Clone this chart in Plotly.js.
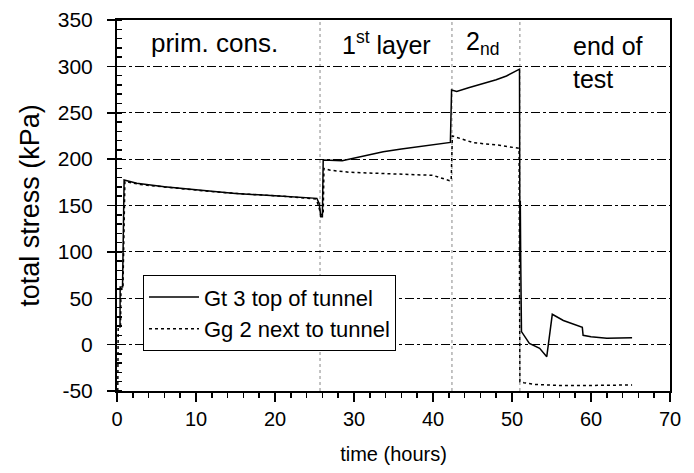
<!DOCTYPE html>
<html>
<head>
<meta charset="utf-8">
<script src="https://cdn.plot.ly/plotly-3.0.1.min.js"></script>
<style>html,body{margin:0;padding:0;background:#fff;}#chart{width:694px;height:473px;}</style>
</head>
<body>
<div id="chart"></div>
<script>
// Gt 3 top of tunnel (solid)
const gt3Time = [0.3, 0.38, 0.4, 0.7, 0.9, 2.5, 6, 11, 15, 20, 25.3, 25.6, 25.8, 26.0, 26.1, 28.5, 31, 33.7, 36, 38, 40.5, 42.2, 42.35, 43, 44.5, 46.3, 48, 49.3, 50.95, 51.0, 51.05, 51.1, 51.2, 52.2, 53.5, 54.4, 55.1, 56.5, 58.9, 59.0, 60, 62, 65.2];
const gt3Stress = [19, 19, 62, 62, 177.5, 174, 170.3, 166, 163, 160.5, 157.7, 152, 138, 138, 199, 198.3, 203, 208, 211, 213, 216, 218, 274.5, 273, 277, 281, 285.5, 289.6, 297, 90, 155, 95, 14, 1.4, -4, -13, 32.7, 26, 18.6, 10, 8.5, 7, 7.5];
// Gg 2 next to tunnel (dotted)
const gg2Time = [0.1, 0.15, 0.45, 0.5, 0.75, 1.0, 3, 7, 12, 16, 21, 25.2, 25.5, 25.8, 26.1, 26.2, 27, 29.5, 32, 35.8, 40, 42.1, 42.3, 42.45, 43.5, 45.1, 48.4, 50.9, 51.0, 51.5, 53, 56, 60, 65.2];
const gg2Stress = [-50, 19, 21, 60, 60, 176, 172.5, 169, 165, 162.5, 160, 157, 150, 140, 140, 190, 188, 185.8, 185, 184, 182.5, 176.8, 177, 225, 222, 217.7, 215, 211.6, -40, -41, -43, -44, -44, -43.5];
// axis ticks
const xTickVals = [0, 10, 20, 30, 40, 50, 60, 70];
const xTickText = ["0", "10", "20", "30", "40", "50", "60", "70"];
const yTickVals = [-50, 0, 50, 100, 150, 200, 250, 300, 350];
const yTickText = ["-50", "0", "50", "100", "150", "200", "250", "300", "350"];
// phase boundaries (hours)
const phaseBoundaries = [25.7, 42.4, 51.0];
const phaseLabels = ["prim. cons.", "1<sup>st</sup> layer", "2<sub>nd</sub>", "end of<br>test"];
const phaseLabelX = [12.4, 34.1, 46.3, 57.5];
const phaseLabelY = [325, 325, 325, 304];

const font = "'Liberation Sans', Arial, sans-serif";

const traces = [
  {x: gt3Time, y: gt3Stress, type: "scatter", mode: "lines", name: "Gt 3 top of tunnel",
   line: {color: "#000", width: 1.5}},
  {x: gg2Time, y: gg2Stress, type: "scatter", mode: "lines", name: "Gg 2 next to tunnel",
   line: {color: "#000", width: 1.5, dash: "dot"}}
];

const shapes = phaseBoundaries.map(b => ({
  type: "line", xref: "x", yref: "y", x0: b, x1: b, y0: -50, y1: 350,
  line: {color: "#888", width: 1, dash: "dot"}, layer: "below"
}));

const annotations = phaseLabels.map((t, i) => ({
  x: phaseLabelX[i], y: phaseLabelY[i], xref: "x", yref: "y", text: t, showarrow: false,
  xanchor: i === 3 ? "left" : "center", align: "left",
  font: {family: font, size: i === 0 ? 26 : 25, color: "#000"}
}));

const layout = {
  width: 694, height: 473,
  margin: {l: 117, r: 24, t: 20, b: 82},
  paper_bgcolor: "#fff", plot_bgcolor: "#fff",
  showlegend: true,
  legend: {x: 0.047, y: 0.312, xanchor: "left", yanchor: "top", bgcolor: "#fff",
    bordercolor: "#000", borderwidth: 1, font: {family: font, size: 22, color: "#000"},
    itemwidth: 50, tracegroupgap: 0},
  xaxis: {
    range: [0, 70], tickmode: "array", tickvals: xTickVals, ticktext: xTickText,
    showgrid: false, zeroline: false,
    showline: true, linecolor: "#000", linewidth: 2, mirror: true,
    ticks: "outside", ticklen: 9, tickwidth: 1.5, tickcolor: "#000",
    minor: {dtick: 2, tick0: 0, ticks: "outside", ticklen: 5, tickwidth: 1.5, tickcolor: "#000", showgrid: false},
    tickfont: {family: font, size: 20, color: "#000"},
    title: {text: "time (hours)", font: {family: font, size: 20, color: "#000"}, standoff: 18}
  },
  yaxis: {
    range: [-50, 350], tickmode: "array", tickvals: yTickVals, ticktext: yTickText,
    showgrid: true, gridcolor: "#000", gridwidth: 1,
    griddash: "dashdot", zeroline: false,
    showline: true, linecolor: "#000", linewidth: 2, mirror: true,
    ticks: "outside", ticklen: 8, tickwidth: 1.5, tickcolor: "#000", ticklabelstandoff: 10,
    minor: {dtick: 10, tick0: 0, ticks: "inside", ticklen: 5, tickwidth: 1.5, tickcolor: "#000", showgrid: false},
    tickfont: {family: font, size: 21, color: "#000"},
    title: {text: "total stress (kPa)", font: {family: font, size: 27, color: "#000"}, standoff: 10}
  },
  shapes: shapes,
  annotations: annotations
};

Plotly.newPlot("chart", traces, layout, {displayModeBar: false, staticPlot: true});
</script>
</body>
</html>
